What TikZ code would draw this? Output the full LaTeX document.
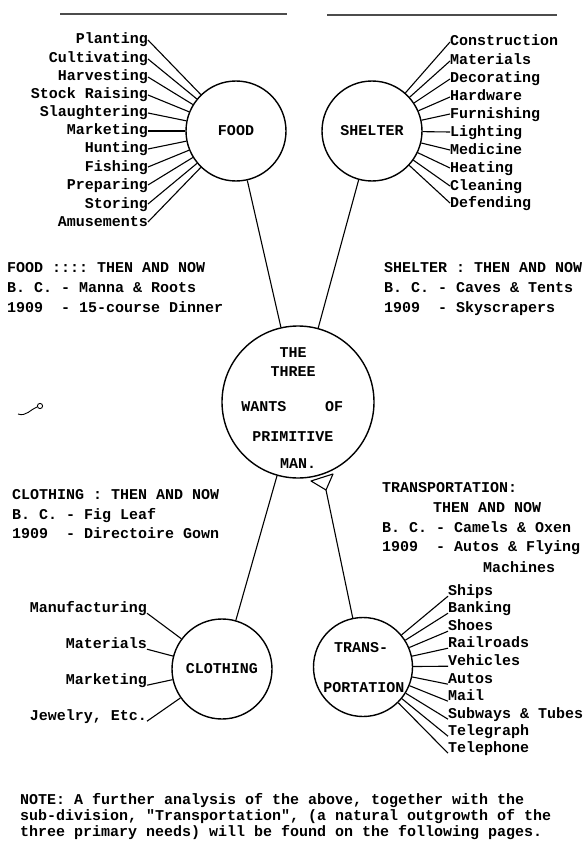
\documentclass[tikz,border=0pt]{standalone}
\usepackage{fontspec}
\setmonofont{Liberation Mono}
\begin{document}
\begin{tikzpicture}[x=1pt,y=-1pt,
  tw/.style={font=\ttfamily\bfseries\fontsize{15}{18}\selectfont\frenchspacing, inner sep=0pt, text height=9pt, text depth=1pt},
  bubble/.style={circle, draw, line width=1.4pt, inner sep=0pt, font=\ttfamily\bfseries\fontsize{15}{18}\selectfont},
  conn/.style={line width=1.1pt},
  rule/.style={line width=2.6pt, black!70},
]
\fill[white] (0,0) rectangle (588,848);
\path[use as bounding box] (0,0) rectangle (588,848);

% top rules
\coordinate (r1a) at (60,14); \coordinate (r1b) at (287,14);
\coordinate (r2a) at (327,15); \coordinate (r2b) at (557,15);
\draw[rule] (r1a) -- (r1b);
\draw[rule] (r2a) -- (r2b);

% circles
\node[bubble, minimum size=100pt] (food) at (236,131) {FOOD};
\node[bubble, minimum size=100pt] (shelter) at (372,131) {SHELTER};
\node[bubble, minimum size=152pt] (wants) at (298,402) {};
\node[bubble, minimum size=100pt] (clothing) at (222,669) {CLOTHING};
\node[bubble, minimum size=99pt] (trans) at (363,667) {};

% centre texts
\node[tw] (w1) at (293,353) {THE};
\node[tw] (w2) at (293,372) {THREE};
\node[tw] (w3) at (264,407) {WANTS};
\node[tw] (w4) at (334,407) {OF};
\node[tw] (w5) at (293,437) {PRIMITIVE};
\node[tw] (w6) at (298,464) {MAN.};

\node[tw] (tr1) at (361,648) {TRANS-};
\node[tw] (tr2) at (364,688) {PORTATION};

% main connectors
\draw[conn] (food) -- (wants);
\draw[conn] (shelter) -- (wants);
\draw[conn] (wants) -- (clothing);
\coordinate (tl) at (311,481); \coordinate (trr) at (333,474); \coordinate (tb) at (326,490);
\draw[conn, line join=round] (tl) -- (trr) -- (tb) -- cycle;
\draw[conn] (tb) -- (trans);

% food list
\foreach \t/\y [count=\i] in {Planting/40, Cultivating/59, Harvesting/77, Stock Raising/95, Slaughtering/113, Marketing/131, Hunting/149, Fishing/167, Preparing/185, Storing/204, Amusements/222}{
  \node[tw, anchor=east] (f\i) at (148,\y) {\t};
  \draw[conn] (f\i.east) -- (food);
}

% shelter list
\foreach \t/\y [count=\i] in {Construction/42, Materials/61, Decorating/79, Hardware/97, Furnishing/114, Lighting/132, Medicine/150, Heating/168, Cleaning/186, Defending/203}{
  \node[tw, anchor=west] (s\i) at (450,\y) {\t};
  \draw[conn] (shelter) -- (s\i.west);
}

% clothing list
\foreach \t/\y [count=\i] in {Manufacturing/608, Materials/644, Marketing/680, {Jewelry, Etc.}/716}{
  \node[tw, anchor=east] (c\i) at (147,\y) {\t};
  \draw[conn] (c\i.south east) -- (clothing);
}

% transportation list
\foreach \t/\y [count=\i] in {Ships/591, Banking/608, Shoes/626, Railroads/643, Vehicles/661, Autos/679, Mail/696, Subways \& Tubes/714, Telegraph/731, Telephone/748}{
  \node[tw, anchor=west] (t\i) at (448,\y) {\t};
  \draw[conn] (trans) -- (t\i.south west);
}

% then and now blocks
\node[tw, anchor=west] (fb1) at (7,268) {FOOD :::: THEN AND NOW};
\node[tw, anchor=west] (fb2) at (7,288) {B.~C. - Manna \& Roots};
\node[tw, anchor=west] (fb3) at (7,308) {1909~~- 15-course Dinner};

\node[tw, anchor=west] (sb1) at (384,268) {SHELTER : THEN AND NOW};
\node[tw, anchor=west] (sb2) at (384,288) {B.~C. - Caves \& Tents};
\node[tw, anchor=west] (sb3) at (384,308) {1909~~- Skyscrapers};

\node[tw, anchor=west] (cb1) at (12,495) {CLOTHING : THEN AND NOW};
\node[tw, anchor=west] (cb2) at (12,515) {B.~C. - Fig Leaf};
\node[tw, anchor=west] (cb3) at (12,534) {1909~~- Directoire Gown};

\node[tw, anchor=west] (tb1) at (382,488) {TRANSPORTATION:};
\node[tw, anchor=west] (tb2) at (433,508) {THEN AND NOW};
\node[tw, anchor=west] (tb3) at (382,528) {B.~C. - Camels \& Oxen};
\node[tw, anchor=west] (tb4) at (382,547) {1909~~- Autos \& Flying};
\node[tw, anchor=west] (tb5) at (483,568) {Machines};

% note
\node[tw, anchor=west] (n1) at (20,800) {NOTE: A further analysis of the above, together with the};
\node[tw, anchor=west] (n2) at (20,816) {sub-division, "Transportation", (a natural outgrowth of the};
\node[tw, anchor=west] (n3) at (20,832) {three primary needs) will be found on the following pages.};

% stray pen mark
\draw[line width=0.9pt] (18,414) .. controls (26,417) and (31,409) .. (37,407);
\draw[line width=0.9pt] (40,406) circle (2.6pt);
\end{tikzpicture}
\end{document}
